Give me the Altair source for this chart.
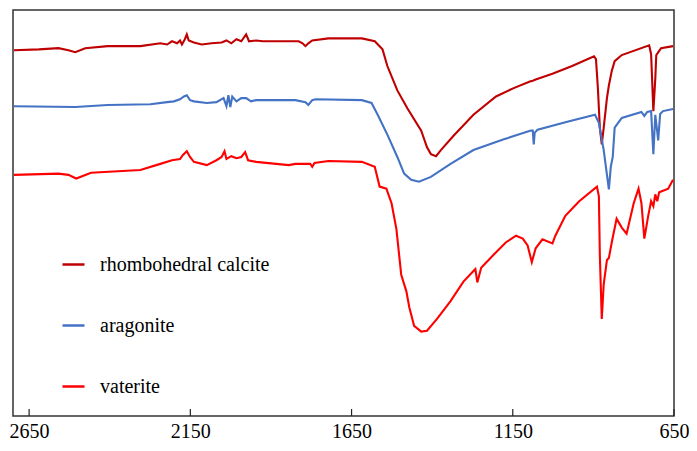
import altair as alt
import pandas as pd

# Wavenumber (cm-1) and transmittance (%, arbitrary offset)
calcite_wn = [2697, 2620, 2559, 2528, 2507, 2476, 2406, 2305, 2243, 2222, 2207, 2191, 2182, 2176, 2167, 2161, 2155, 2139, 2115, 2084, 2053, 2038, 2023, 2007, 1992, 1977, 1968, 1946, 1925, 1814, 1802, 1793, 1784, 1772, 1722, 1618, 1578, 1554, 1539, 1508, 1477, 1434, 1416, 1404, 1388, 1373, 1333, 1272, 1202, 1149, 1097, 1088, 1079, 1027, 966, 898, 892, 886, 880, 874, 868, 858, 852, 843, 834, 812, 727, 721, 714, 708, 705, 690, 653]
calcite_t = [90.1, 90.3, 90.6, 90.1, 89.6, 90.6, 91.1, 91.1, 91.8, 91.5, 92.3, 91.8, 92.5, 91.5, 92.8, 94.0, 92.5, 92.0, 91.5, 91.8, 92.0, 92.5, 91.8, 92.8, 92.3, 94.0, 92.3, 92.5, 92.3, 92.3, 91.8, 91.1, 91.8, 92.5, 93.0, 93.0, 92.3, 90.3, 86.2, 80.2, 75.8, 70.3, 66.2, 64.5, 64.0, 65.5, 69.1, 74.2, 78.7, 80.7, 82.4, 82.6, 82.9, 84.3, 86.2, 88.6, 87.9, 80.7, 71.0, 66.9, 71.0, 78.3, 81.4, 85.0, 87.4, 88.9, 91.3, 89.1, 75.1, 83.1, 88.9, 90.6, 91.1]

aragonite_wn = [2697, 2507, 2406, 2274, 2222, 2201, 2182, 2170, 2161, 2151, 2139, 2099, 2069, 2047, 2038, 2032, 2026, 2020, 2007, 1992, 1977, 1962, 1946, 1824, 1793, 1784, 1772, 1762, 1618, 1588, 1569, 1539, 1508, 1487, 1465, 1441, 1404, 1343, 1272, 1180, 1094, 1088, 1085, 1082, 1073, 981, 895, 883, 868, 852, 846, 840, 834, 812, 751, 742, 733, 721, 714, 708, 699, 693, 684, 653]
aragonite_t = [76.3, 76.1, 76.6, 76.8, 77.3, 77.5, 78.0, 78.7, 79.0, 77.8, 77.5, 77.1, 77.3, 78.3, 76.3, 79.0, 76.1, 78.7, 77.5, 78.3, 78.3, 77.5, 77.8, 77.8, 77.3, 76.6, 77.8, 78.0, 77.8, 77.1, 74.2, 69.3, 63.8, 59.7, 58.2, 57.7, 58.9, 62.1, 65.5, 68.1, 70.3, 70.3, 66.9, 69.8, 70.5, 72.5, 74.2, 72.2, 65.5, 55.8, 61.4, 63.8, 71.0, 73.4, 74.9, 73.9, 74.9, 75.1, 64.5, 74.2, 67.9, 74.4, 75.1, 75.6]

vaterite_wn = [2697, 2559, 2528, 2504, 2458, 2305, 2243, 2207, 2182, 2173, 2161, 2151, 2139, 2099, 2069, 2053, 2044, 2038, 2023, 2007, 1992, 1980, 1971, 1946, 1845, 1824, 1778, 1772, 1765, 1722, 1618, 1578, 1563, 1542, 1526, 1511, 1496, 1480, 1471, 1456, 1434, 1416, 1385, 1343, 1303, 1272, 1266, 1260, 1248, 1211, 1171, 1140, 1119, 1104, 1091, 1079, 1058, 1027, 1018, 987, 944, 889, 883, 880, 874, 868, 858, 852, 843, 828, 812, 797, 775, 760, 751, 742, 730, 721, 714, 708, 702, 696, 690, 668, 653]
vaterite_t = [59.4, 59.7, 59.4, 58.5, 59.9, 60.6, 62.1, 63.0, 63.3, 64.3, 65.2, 63.8, 62.6, 61.8, 63.0, 63.8, 65.2, 63.3, 64.0, 63.5, 63.8, 65.0, 63.0, 62.6, 61.8, 62.1, 62.1, 61.4, 62.3, 62.8, 62.6, 61.4, 56.5, 56.0, 52.4, 46.1, 34.8, 30.7, 26.8, 22.2, 20.8, 21.0, 23.9, 28.3, 33.1, 35.7, 36.2, 32.9, 36.5, 39.6, 42.8, 44.4, 43.7, 42.0, 37.9, 41.3, 43.5, 42.5, 44.4, 49.3, 52.9, 56.5, 54.1, 39.6, 23.9, 32.4, 38.4, 38.9, 42.8, 48.6, 46.4, 44.9, 52.4, 56.0, 52.4, 43.7, 49.3, 52.9, 51.7, 54.6, 52.9, 55.1, 55.3, 56.0, 58.2]

series_names = ["rhombohedral calcite", "aragonite", "vaterite"]
series_colors = ["#C00000", "#4472C4", "#FF0000"]
tick_values = [2650, 2150, 1650, 1150, 650]

rows = []
for name, wns, ts in zip(series_names,
                         [calcite_wn, aragonite_wn, vaterite_wn],
                         [calcite_t, aragonite_t, vaterite_t]):
    for i, (w, t) in enumerate(zip(wns, ts)):
        rows.append({"sample": name, "wavenumber": w, "T": t, "idx": i})
df = pd.DataFrame(rows)
ticks_df = pd.DataFrame({"tick": tick_values})

FONT = "Liberation Serif, Times New Roman, Tinos, DejaVu Serif, serif"

W, H = 661, 406

x_scale = alt.Scale(domain=[650, 2700], reverse=True, nice=False, zero=False)
y_scale = alt.Scale(domain=[0, 100], nice=False, zero=False)

lines = alt.Chart(df).mark_line(strokeWidth=2.1, interpolate="linear").encode(
    x=alt.X("wavenumber:Q", scale=x_scale,
            axis=alt.Axis(values=tick_values, tickSize=0, domain=False, grid=False,
                          labelFont=FONT, labelFontSize=20, labelColor="#000",
                          labelPadding=5, labelFlush=False, title=None,
                          format="d")),
    y=alt.Y("T:Q", scale=y_scale, axis=None),
    color=alt.Color("sample:N",
                    scale=alt.Scale(domain=series_names, range=series_colors),
                    sort=series_names,
                    legend=alt.Legend(orient="none", legendX=48, legendY=242,
                                      title=None, symbolType="stroke",
                                      symbolSize=484, symbolStrokeWidth=2.5,
                                      rowPadding=38, labelFont=FONT,
                                      labelFontSize=20, labelColor="#000",
                                      labelOffset=14, labelLimit=400,
                                      padding=0)),
    order=alt.Order("idx:Q"),
    detail="sample:N",
)

tick_marks = alt.Chart(ticks_df).mark_rule(color="#222", strokeWidth=1.2).encode(
    x=alt.X("tick:Q", scale=x_scale),
    y=alt.value(H - 7),
    y2=alt.value(H),
)

chart = (
    alt.layer(lines, tick_marks)
    .properties(
        width=W, height=H,
        autosize=alt.AutoSizeParams(type="none"),
        padding={"left": 5, "top": 2, "right": 15, "bottom": 27},
    )
    .configure(background="white")
    .configure_view(stroke="#333", strokeWidth=1.5)
)

chart.save("out.html", embed_options={"renderer": "svg", "actions": False})
